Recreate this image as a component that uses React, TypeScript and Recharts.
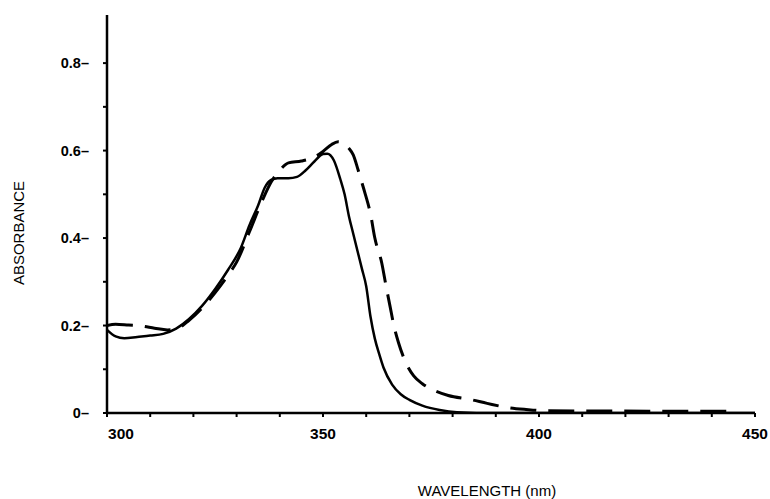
import React from 'react';
import { LineChart, Line, XAxis, YAxis, Label } from 'recharts';

// Solid curve
const solidNm = [300, 302, 304, 307, 310, 313, 316, 319, 322, 325, 328, 331, 333, 335, 336.5, 338, 339.5, 342, 344, 346, 348, 350, 351, 352.5, 354, 355, 356, 357, 358, 359, 360, 361, 362, 363, 364, 366, 368, 370, 373, 377, 381, 390, 420, 450];
const solidAbs = [0.19, 0.175, 0.171, 0.174, 0.177, 0.181, 0.193, 0.215, 0.245, 0.283, 0.327, 0.378, 0.43, 0.475, 0.515, 0.533, 0.537, 0.537, 0.54, 0.555, 0.575, 0.592, 0.593, 0.578, 0.535, 0.5, 0.45, 0.41, 0.37, 0.33, 0.29, 0.22, 0.17, 0.135, 0.104, 0.065, 0.043, 0.03, 0.017, 0.007, 0.002, 0.0, 0.0, 0.0];

// Dashed curve
const dashedNm = [300, 302, 305, 308, 311, 314, 316, 319, 322, 325, 328, 330, 333, 336, 338, 340, 342, 345, 348, 350, 352, 353.5, 355, 356, 357, 358, 358.6, 359.8, 361, 362, 363.6, 364.6, 365.5, 366.4, 367.5, 369, 371, 373, 375, 379, 384, 388, 393, 397, 402, 446];
const dashedAbs = [0.2, 0.203, 0.201, 0.199, 0.194, 0.19, 0.192, 0.212, 0.24, 0.275, 0.315, 0.345, 0.415, 0.487, 0.528, 0.555, 0.572, 0.576, 0.585, 0.598, 0.614, 0.62, 0.615, 0.605, 0.59, 0.56, 0.54, 0.5, 0.455, 0.4, 0.343, 0.29, 0.245, 0.2, 0.16, 0.119, 0.085, 0.067, 0.055, 0.04, 0.031, 0.022, 0.012, 0.008, 0.005, 0.004];

const xTicks = [300, 310, 320, 330, 340, 350, 360, 370, 380, 390, 400, 410, 420, 430, 440, 450];
const xMajorTicks = [300, 350, 400, 450];
const yTicks = [0, 0.1, 0.2, 0.3, 0.4, 0.5, 0.6, 0.7, 0.8];
const yMajorTicks = [0, 0.2, 0.4, 0.6, 0.8];
const yTickLabels = ['0', '0.2', '0.4', '0.6', '0.8'];

const solidData = solidNm.map((nm, i) => ({ nm, abs: solidAbs[i] }));
const dashedData = dashedNm.map((nm, i) => ({ nm, abs: dashedAbs[i] }));

const FONT = '"Liberation Sans", Arial, Helvetica, sans-serif';
const Y_GAP = 18;

const YTick = (props: any) => {
  const { x, y, payload } = props;
  const v = payload.value;
  const idx = yMajorTicks.findIndex((m) => Math.abs(m - v) < 1e-6);
  const axisX = x + Y_GAP;
  return (
    <g>
      <line x1={axisX - 4} x2={axisX} y1={y} y2={y} stroke="#000" strokeWidth={2} />
      {idx >= 0 && (
        <text x={x} y={y} dy={5} textAnchor="end" fontFamily={FONT} fontWeight="bold" fontSize={14.5} fill="#000">
          {yTickLabels[idx] + '\u2013'}
        </text>
      )}
    </g>
  );
};

const XTick = (props: any) => {
  const { x, y, payload } = props;
  const v = payload.value;
  const major = xMajorTicks.includes(v);
  const dx = v === 300 ? 14 : 0;
  return (
    <g>
      <line x1={x} x2={x} y1={y} y2={y + 4} stroke="#000" strokeWidth={2} />
      {major && (
        <text x={x + dx} y={y + 26} textAnchor="middle" fontFamily={FONT} fontWeight="bold" fontSize={15.5} fill="#000">
          {String(v)}
        </text>
      )}
    </g>
  );
};

export default function App() {
  return (
    <div style={{ width: 770, height: 499, background: '#fff' }}>
      <style>{'html, body { margin: 0; padding: 0; background: #fff; }'}</style>
      <LineChart width={770} height={499} margin={{ top: 15, right: 15, bottom: 56, left: 47 }}>
        <XAxis
          dataKey="nm"
          type="number"
          domain={[300, 450]}
          ticks={xTicks}
          tick={<XTick />}
          tickLine={false}
          tickSize={0}
          tickMargin={0}
          height={30}
          axisLine={{ stroke: '#000', strokeWidth: 2.5 }}
          allowDataOverflow
          interval={0}
        >
          <Label
            content={(p: any) => {
              const vb = p.viewBox;
              return (
                <text x={vb.x + vb.width / 2 + 56} y={vb.y + 83} textAnchor="middle" fontFamily={FONT} fontSize={15} fill="#000">
                  WAVELENGTH (nm)
                </text>
              );
            }}
          />
        </XAxis>
        <YAxis
          type="number"
          domain={[0, 0.91]}
          ticks={yTicks}
          tick={<YTick />}
          tickLine={false}
          tickSize={0}
          tickMargin={Y_GAP}
          width={60}
          axisLine={{ stroke: '#000', strokeWidth: 2.5 }}
          allowDataOverflow
          interval={0}
        >
          <Label
            content={(p: any) => {
              const vb = p.viewBox;
              const cx = vb.x - 29;
              const cy = vb.y + vb.height / 2 + 19;
              return (
                <text x={cx} y={cy} textAnchor="middle" dominantBaseline="central" transform={`rotate(-90 ${cx} ${cy})`} fontFamily={FONT} fontSize={15} fill="#000">
                  ABSORBANCE
                </text>
              );
            }}
          />
        </YAxis>
        <Line data={solidData} dataKey="abs" type="monotone" stroke="#000" strokeWidth={2.5} dot={false} isAnimationActive={false} />
        <Line data={dashedData} dataKey="abs" type="monotone" stroke="#000" strokeWidth={3} strokeDasharray="26 12" dot={false} isAnimationActive={false} />
      </LineChart>
    </div>
  );
}
